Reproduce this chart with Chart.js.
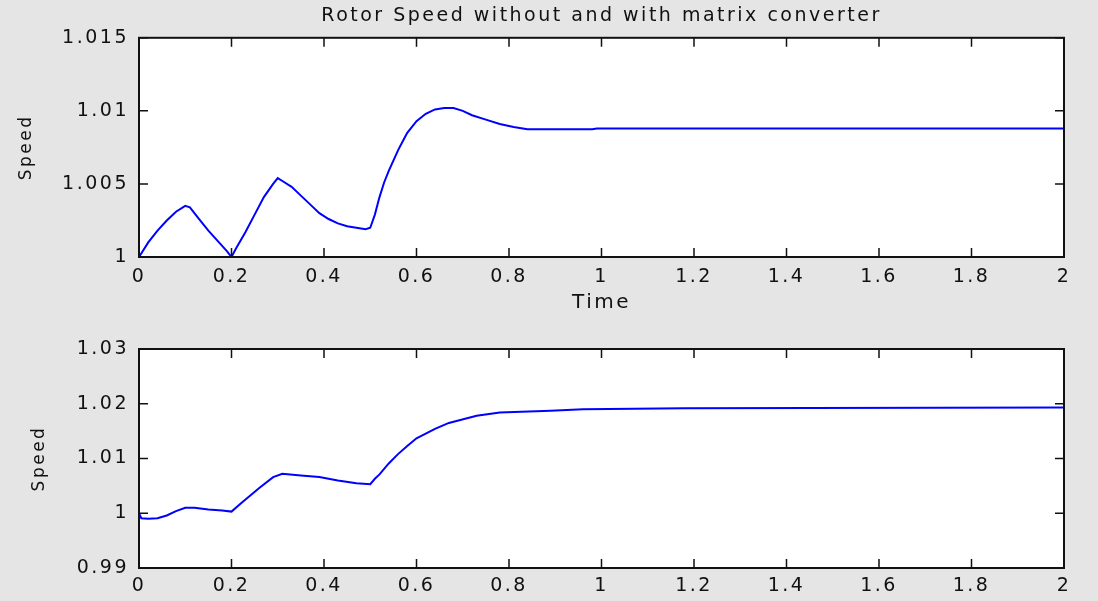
<!DOCTYPE html>
<html>
<head>
<meta charset="utf-8">
<title>Rotor Speed</title>
<script src="https://cdn.jsdelivr.net/npm/chart.js@4.4.0/dist/chart.umd.min.js"></script>
<style>
  html, body { margin: 0; padding: 0; background: #e5e5e5; }
  body { width: 1098px; height: 601px; position: relative; overflow: hidden; }
  .panel { position: absolute; left: 0; width: 1098px; }
  #top-panel { top: 0; height: 320px; }
  #bottom-panel { top: 320px; height: 281px; }
</style>
</head>
<body>
<div class="panel" id="top-panel"><canvas id="speed-without"></canvas></div>
<div class="panel" id="bottom-panel"><canvas id="speed-with"></canvas></div>
<script>
// rotor speed without matrix converter
const timeWithout = [0, 0.02, 0.04, 0.06, 0.08, 0.1, 0.11, 0.13, 0.15, 0.17, 0.19, 0.2,
  0.21, 0.23, 0.25, 0.27, 0.29, 0.3, 0.31, 0.33, 0.35, 0.37, 0.39, 0.41, 0.43, 0.45, 0.47,
  0.49, 0.5, 0.51, 0.52, 0.53, 0.54, 0.55, 0.56, 0.57, 0.58, 0.6, 0.62, 0.64, 0.66, 0.68,
  0.7, 0.72, 0.75, 0.78, 0.81, 0.84, 0.98, 0.99, 2];
const speedWithout = [1.0000, 1.0010, 1.0018, 1.0025, 1.0031, 1.0035, 1.0034, 1.0026, 1.0018,
  1.0011, 1.0004, 1.0000, 1.0006, 1.0017, 1.0029, 1.0041, 1.0050, 1.0054, 1.0052, 1.0048,
  1.0042, 1.0036, 1.0030, 1.0026, 1.0023, 1.0021, 1.0020, 1.0019, 1.0020, 1.0029, 1.0041,
  1.0051, 1.0059, 1.0066, 1.0073, 1.0079, 1.0085, 1.0093, 1.0098, 1.0101, 1.0102, 1.0102,
  1.0100, 1.0097, 1.0094, 1.0091, 1.0089, 1.00875, 1.00875, 1.0088, 1.0088];

// rotor speed with matrix converter
const timeWith = [0, 0.005, 0.02, 0.04, 0.06, 0.08, 0.1, 0.12, 0.15, 0.18, 0.2, 0.22, 0.26,
  0.29, 0.31, 0.35, 0.39, 0.43, 0.47, 0.5, 0.51, 0.52, 0.54, 0.56, 0.58, 0.6, 0.64, 0.67,
  0.73, 0.78, 0.89, 0.96, 1.18, 2];
const speedWith = [1.0000, 0.9991, 0.9990, 0.9991, 0.9996, 1.0004, 1.0010, 1.0010, 1.0007,
  1.0005, 1.0003, 1.0018, 1.0046, 1.0066, 1.0072, 1.0069, 1.0066, 1.0060, 1.0055, 1.0053,
  1.0063, 1.0071, 1.0091, 1.0108, 1.0123, 1.0137, 1.0154, 1.0165, 1.0178, 1.0184, 1.0187,
  1.0190, 1.0192, 1.0193];

const timeTicks = [0, 0.2, 0.4, 0.6, 0.8, 1, 1.2, 1.4, 1.6, 1.8, 2];
const topSpeedTicks = [1, 1.005, 1.01, 1.015];
const bottomSpeedTicks = [0.99, 1, 1.01, 1.02, 1.03];

const ink = '#111111';
Chart.defaults.font.family = '"DejaVu Sans", sans-serif';
Chart.defaults.color = ink;

// white axes box with inward tick marks on all four sides
const axesFrame = {
  id: 'axesFrame',
  beforeDraw(chart) {
    const { ctx, chartArea: a } = chart;
    ctx.save();
    ctx.fillStyle = '#ffffff';
    ctx.fillRect(a.left, a.top, a.right - a.left, a.bottom - a.top);
    ctx.restore();
    ctx.letterSpacing = '2.5px';
  },
  afterDatasetsDraw(chart) {
    const { ctx, chartArea: a, scales: { x, y } } = chart;
    const len = 9;
    ctx.save();
    ctx.strokeStyle = ink;
    ctx.lineWidth = 1.5;
    ctx.beginPath();
    x.ticks.forEach(t => {
      const px = x.getPixelForValue(t.value);
      ctx.moveTo(px, a.bottom);
      ctx.lineTo(px, a.bottom - len);
      ctx.moveTo(px, a.top);
      ctx.lineTo(px, a.top + len);
    });
    y.ticks.forEach(t => {
      const py = y.getPixelForValue(t.value);
      ctx.moveTo(a.left, py);
      ctx.lineTo(a.left + len, py);
      ctx.moveTo(a.right, py);
      ctx.lineTo(a.right - len, py);
    });
    ctx.stroke();
    ctx.lineWidth = 2;
    ctx.strokeRect(a.left, a.top, a.right - a.left, a.bottom - a.top);
    ctx.restore();
  }
};

function makeChart(id, times, speeds, speedTicks, opts) {
  const points = times.map((t, i) => ({ x: t, y: speeds[i] }));
  return new Chart(document.getElementById(id), {
    type: 'line',
    data: {
      datasets: [{
        data: points,
        borderColor: '#0000ff',
        borderWidth: 2,
        pointRadius: 0,
        tension: 0,
        fill: false
      }]
    },
    options: {
      responsive: true,
      maintainAspectRatio: false,
      animation: false,
      events: [],
      layout: { padding: { top: opts.padTop, right: 34, left: 0, bottom: 0 } },
      plugins: {
        legend: { display: false },
        tooltip: { enabled: false },
        title: opts.title
      },
      scales: {
        x: {
          type: 'linear',
          min: timeTicks[0],
          max: timeTicks[timeTicks.length - 1],
          grid: { display: false, drawTicks: false },
          border: { display: false },
          afterBuildTicks: s => { s.ticks = timeTicks.map(v => ({ value: v })); },
          afterFit: s => { s.height = opts.xHeight; },
          ticks: {
            padding: opts.xPad,
            maxRotation: 0,
            autoSkip: false,
            font: { size: 19 },
            callback: v => String(v)
          },
          title: opts.xTitle
        },
        y: {
          type: 'linear',
          min: speedTicks[0],
          max: speedTicks[speedTicks.length - 1],
          grid: { display: false, drawTicks: false },
          border: { display: false },
          afterBuildTicks: s => { s.ticks = speedTicks.map(v => ({ value: v })); },
          afterFit: s => { s.width = 139; },
          ticks: {
            padding: 10,
            font: { size: 19 },
            callback: v => String(v)
          },
          title: {
            display: true,
            text: 'Speed',
            font: { size: 17 },
            padding: { top: opts.yTitlePad, bottom: 0 }
          }
        }
      }
    },
    plugins: [axesFrame]
  });
}

makeChart('speed-without', timeWithout, speedWithout, topSpeedTicks, {
  padTop: 0,
  xHeight: 63,
  xPad: 9,
  yTitlePad: 16,
  title: {
    display: true,
    text: 'Rotor Speed without and with matrix converter',
    fullSize: false,
    font: { size: 19, weight: 'normal' },
    padding: { top: 5, bottom: 10 }
  },
  xTitle: {
    display: true,
    text: 'Time',
    font: { size: 20 },
    padding: { top: 0, bottom: 5 }
  }
});

makeChart('speed-with', timeWith, speedWith, bottomSpeedTicks, {
  padTop: 29,
  xHeight: 33,
  xPad: 7,
  yTitlePad: 29,
  title: { display: false },
  xTitle: { display: false }
});
</script>
</body>
</html>
